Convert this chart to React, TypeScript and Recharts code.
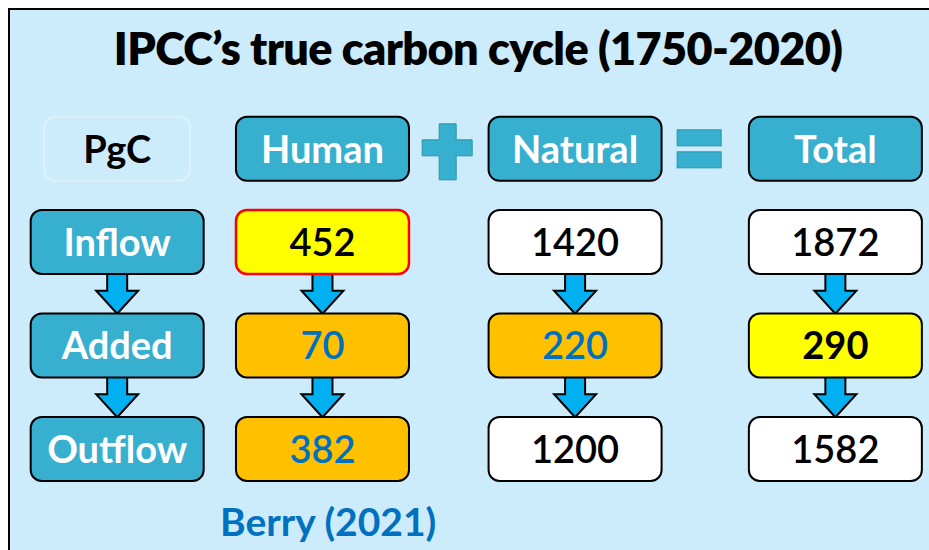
import React from 'react';
import { ScatterChart, Scatter, XAxis, YAxis } from 'recharts';

// values in PgC
const unitLabel = 'PgC';
const rowLabels = ['Inflow', 'Added', 'Outflow'];
const columnLabels = ['Human', 'Natural', 'Total'];
const humanValues = [452, 70, 382];
const naturalValues = [1420, 220, 1200];
const totalValues = [1872, 290, 1582];
const operators = ['+', '='];
const titleText = 'IPCC\u2019s true carbon cycle (1750-2020)';
const sourceText = 'Berry (2021)';

// layout: slot positions on the hidden axes
const LABEL_SLOT = -0.58;
const COLUMN_SLOTS = [1.025, 3, 5.035];
const OPERATOR_SLOTS = [2, 3.97];
const HEADER_ROW = 0.1;

const W = 919;
const H = 540;

const TEAL = '#37AFCF';
const ORANGE = '#FFC000';
const YELLOW = '#FFFF00';
const BLUE_TEXT = '#0070C0';
const ARROW = '#00B0F0';

// per-cell looks, [column][row]
const cellLooks = [
  [
    { fill: YELLOW, stroke: '#FF0000', color: '#000' },
    { fill: ORANGE, stroke: '#000', color: BLUE_TEXT },
    { fill: ORANGE, stroke: '#000', color: BLUE_TEXT },
  ],
  [
    { fill: '#fff', stroke: '#000', color: '#000' },
    { fill: ORANGE, stroke: '#000', color: BLUE_TEXT },
    { fill: '#fff', stroke: '#000', color: '#000' },
  ],
  [
    { fill: '#fff', stroke: '#000', color: '#000' },
    { fill: YELLOW, stroke: '#000', color: '#000' },
    { fill: '#fff', stroke: '#000', color: '#000' },
  ],
];

const valueColumns = [humanValues, naturalValues, totalValues];

const headerData = [
  { x: LABEL_SLOT, y: HEADER_ROW, text: unitLabel, fill: 'transparent', stroke: '#DDF2FC', color: '#000', w: 146 },
  ...columnLabels.map((c, i) => ({ x: COLUMN_SLOTS[i], y: HEADER_ROW, text: c, fill: TEAL, stroke: '#000', color: '#fff', w: 173 })),
];

const rowLabelData = rowLabels.map((r, i) => ({
  x: LABEL_SLOT, y: i + 1, text: r, fill: TEAL, stroke: '#000', color: '#fff', w: 173,
}));

const cellData = valueColumns.flatMap((vals, c) =>
  vals.map((v, r) => ({ x: COLUMN_SLOTS[c], y: r + 1, text: String(v), w: 173, ...cellLooks[c][r] }))
);

const arrowData = [LABEL_SLOT, ...COLUMN_SLOTS].flatMap((x) =>
  rowLabels.slice(1).map((_, i) => ({ x, y: i + 1.5 }))
);

const operatorData = operators.map((op, i) => ({ x: OPERATOR_SLOTS[i], y: HEADER_ROW, op }));

const BoxShape = (props: any) => {
  const { cx, cy, payload } = props;
  const w = payload.w;
  const h = 64;
  const isNumber = /^\d+$/.test(payload.text);
  const bold = !isNumber || payload.text === '290';
  return (
    <g>
      <rect x={cx - w / 2} y={cy - h / 2} width={w} height={h} rx={11} ry={11}
        fill={payload.fill} stroke={payload.stroke} strokeWidth={payload.stroke === '#FF0000' ? 2.5 : 2} />
      <text x={cx} y={cy + 14} textAnchor="middle" fill={payload.color}
        fontFamily="Lato, sans-serif" fontSize={38} fontWeight={bold ? 700 : 600}>
        {payload.text}
      </text>
    </g>
  );
};

const ArrowShape = (props: any) => {
  const { cx, cy } = props;
  const top = cy - 21;
  const neck = cy - 3;
  const tip = cy + 20;
  const sw = 10;
  const hw = 21;
  const d = `M${cx - sw},${top} L${cx + sw},${top} L${cx + sw},${neck} L${cx + hw},${neck} L${cx},${tip} L${cx - hw},${neck} L${cx - sw},${neck} Z`;
  return <path d={d} fill={ARROW} stroke="#000" strokeWidth={2} strokeLinejoin="miter" />;
};

const OperatorShape = (props: any) => {
  const { cx, cy, payload } = props;
  const st = { fill: TEAL, stroke: '#2A95A8', strokeWidth: 1 };
  if (payload.op === '+') {
    const d = `M${cx - 8},${cy - 25} h17 v16 h16 v16 h-16 v24 h-17 v-24 h-17 v-16 h17 Z`;
    return <path d={d} {...st} />;
  }
  return (
    <g>
      <rect x={cx - 22} y={cy - 19} width={44} height={16} {...st} />
      <rect x={cx - 22} y={cy + 3} width={44} height={16} {...st} />
    </g>
  );
};

export default function App() {
  return (
    <div
      style={{
        position: 'fixed',
        left: 8,
        top: 8,
        width: W + 2,
        height: H + 2,
        boxSizing: 'border-box',
        borderTop: '2px solid #000',
        borderLeft: '2px solid #000',
        background: '#CCEBFB',
        fontFamily: 'Lato, sans-serif',
        overflow: 'hidden',
      }}
    >
      <div
        style={{
          position: 'absolute',
          left: 0,
          top: 11,
          width: 936,
          textAlign: 'center',
          fontSize: 45,
          fontWeight: 800,
          color: '#000',
          letterSpacing: -0.6,
        }}
      >
        {titleText}
      </div>
      <div
        style={{
          position: 'absolute',
          left: 210,
          top: 488,
          width: 200,
          textAlign: 'center',
          fontSize: 39,
          fontWeight: 700,
          color: BLUE_TEXT,
          whiteSpace: 'nowrap',
        }}
      >
        {sourceText}
      </div>
      <ScatterChart width={W} height={H} margin={{ top: 0, right: 0, bottom: 0, left: 0 }}>
        <XAxis type="number" dataKey="x" domain={[-1.418, 5.767]} allowDataOverflow hide />
        <YAxis type="number" dataKey="y" domain={[-1.2415, 3.976]} allowDataOverflow reversed hide />
        <Scatter data={arrowData} shape={ArrowShape} isAnimationActive={false} />
        <Scatter data={headerData} shape={BoxShape} isAnimationActive={false} />
        <Scatter data={rowLabelData} shape={BoxShape} isAnimationActive={false} />
        <Scatter data={cellData} shape={BoxShape} isAnimationActive={false} />
        <Scatter data={operatorData} shape={OperatorShape} isAnimationActive={false} />
      </ScatterChart>
    </div>
  );
}
